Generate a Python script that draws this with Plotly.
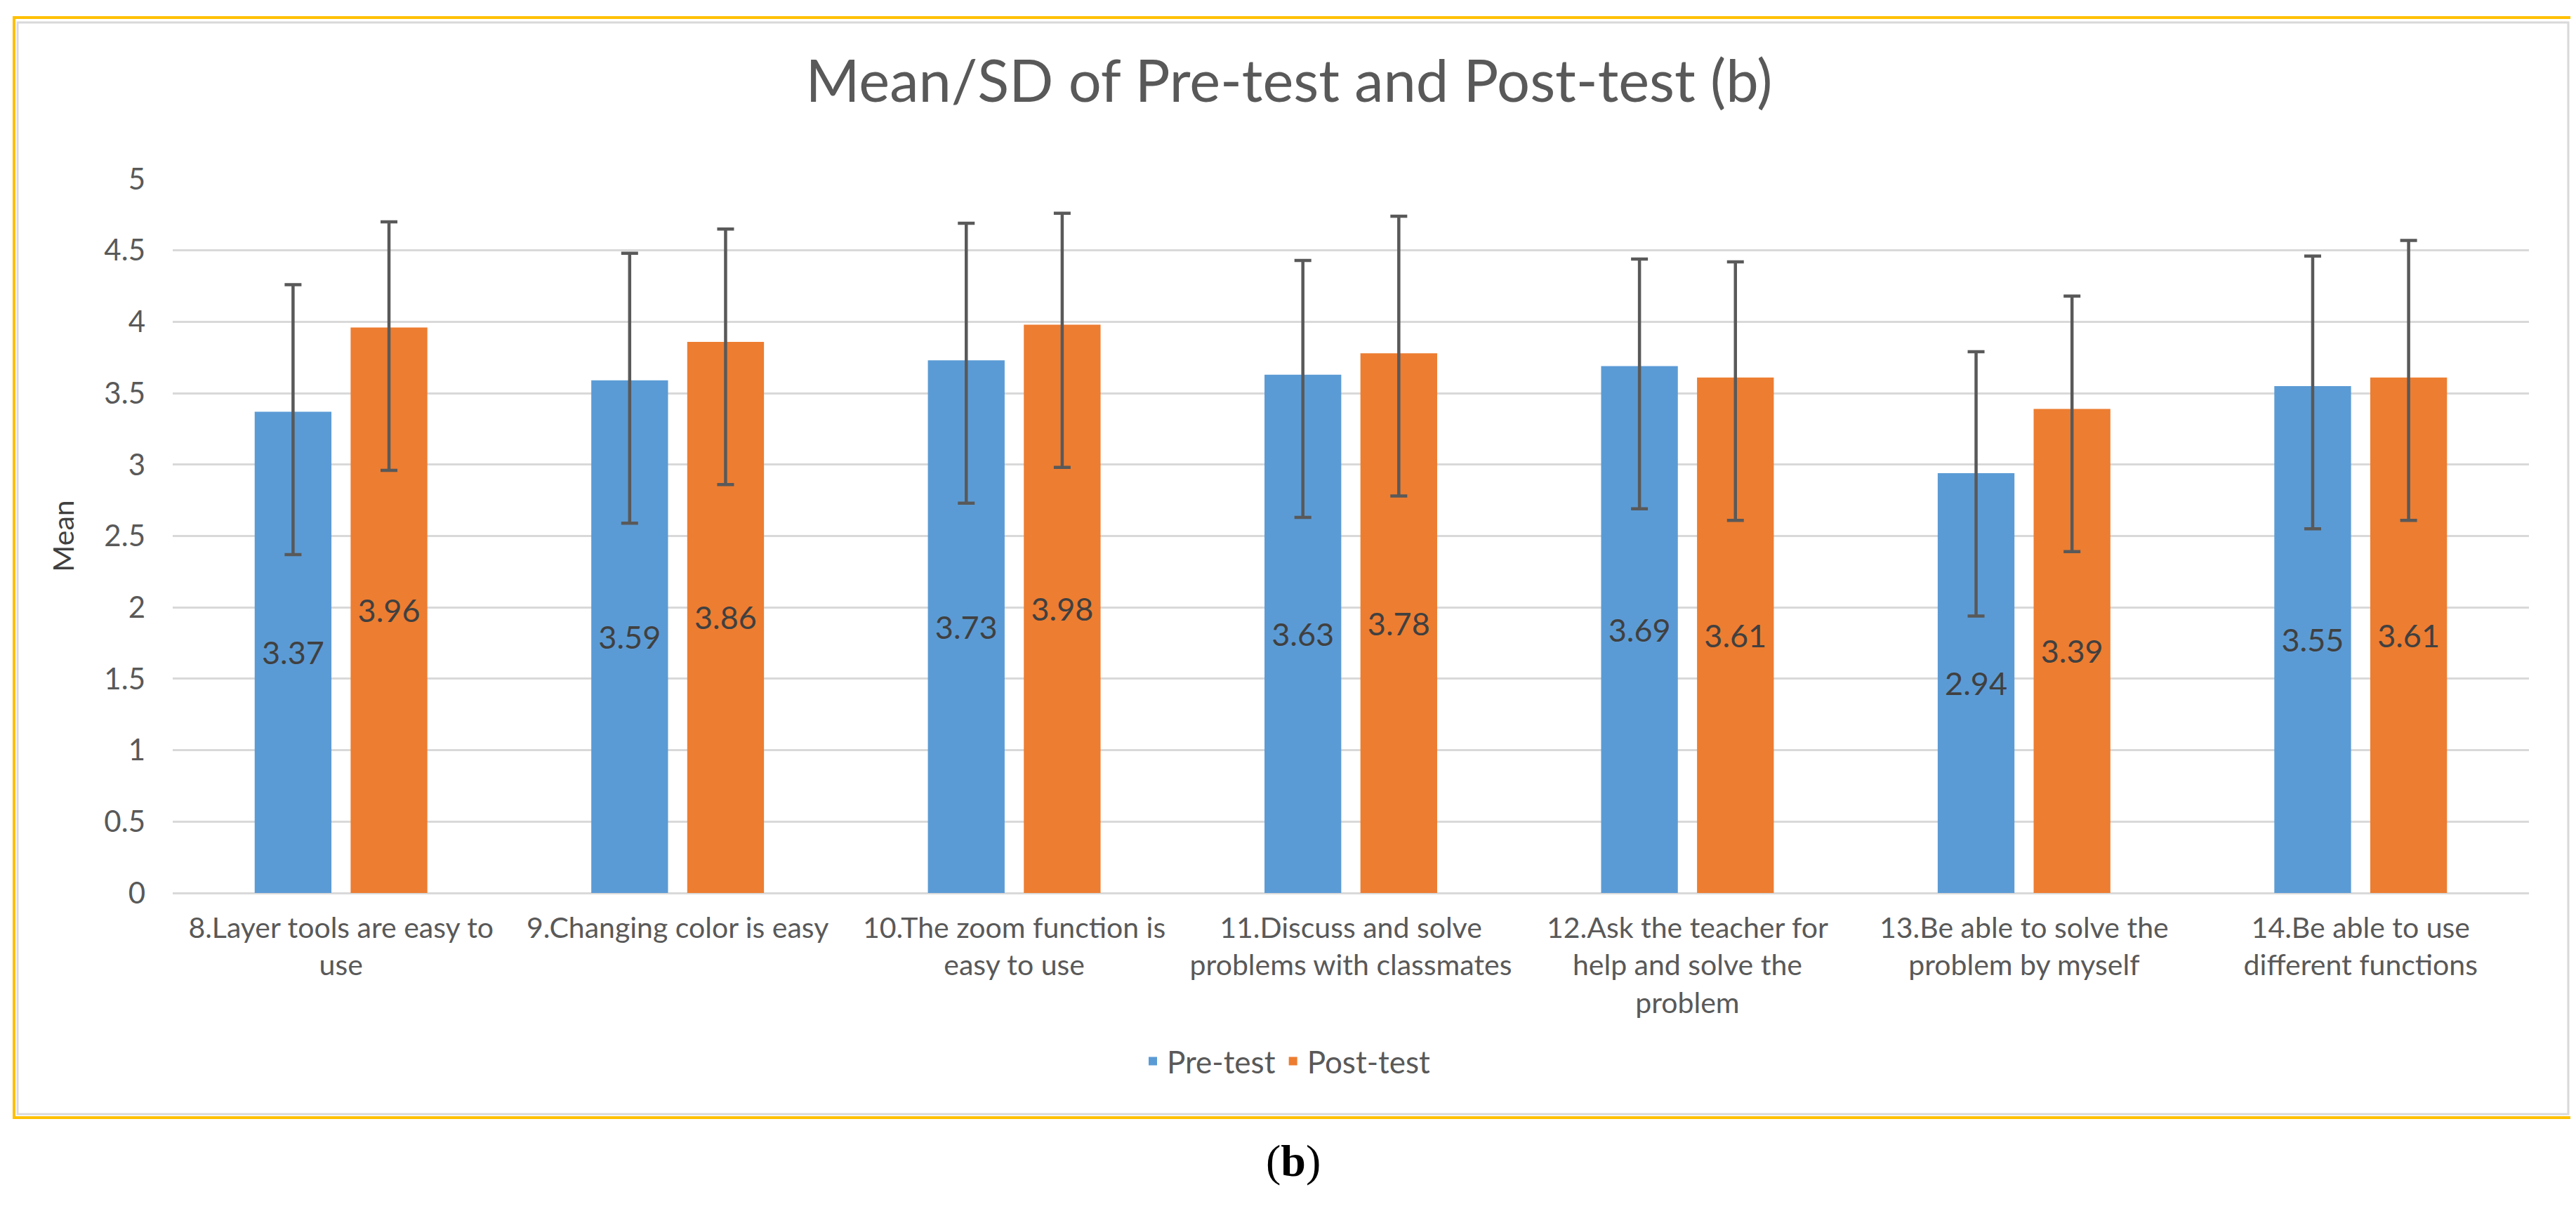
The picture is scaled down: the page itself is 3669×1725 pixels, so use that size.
import plotly.graph_objects as go

W, H = 3669, 1725

categories = [
    "8.Layer tools are easy to<br>use",
    "9.Changing color is easy",
    "10.The zoom function is<br>easy to use",
    "11.Discuss and solve<br>problems with classmates",
    "12.Ask the teacher for<br>help and solve the<br>problem",
    "13.Be able to solve the<br>problem by myself",
    "14.Be able to use<br>different functions",
]
pre_mean = [3.37, 3.59, 3.73, 3.63, 3.69, 2.94, 3.55]
post_mean = [3.96, 3.86, 3.98, 3.78, 3.61, 3.39, 3.61]
pre_err_plus = [0.89, 0.89, 0.96, 0.80, 0.75, 0.85, 0.91]
pre_err_minus = [1.0, 1.0, 1.0, 1.0, 1.0, 1.0, 1.0]
post_err_plus = [0.74, 0.79, 0.78, 0.96, 0.81, 0.79, 0.96]
post_err_minus = [1.0, 1.0, 1.0, 1.0, 1.0, 1.0, 1.0]
y_ticks = [0, 0.5, 1, 1.5, 2, 2.5, 3, 3.5, 4, 4.5, 5]

FONT = "Lato"
GRAY = "#595959"

# plot area in pixels
L, R, T, B = 238, 3594, 247, 1264
pw, ph = R - L, B - T


def px_x(p):
    return (p - L) / pw


def px_y(p):
    return (B - p) / ph


fig = go.Figure()
fig.add_trace(go.Bar(
    name="Pre-test", x=categories, y=pre_mean,
    marker=dict(color="#5B9BD5", line=dict(width=0)),
    text=[f"{v:.2f}" for v in pre_mean],
    textposition="inside", insidetextanchor="middle",
    textfont=dict(family=FONT, size=45, color="#404040"),
    error_y=dict(type="data", symmetric=False, array=pre_err_plus,
                 arrayminus=pre_err_minus, color="#595959", thickness=4.5, width=12),
))
fig.add_trace(go.Bar(
    name="Post-test", x=categories, y=post_mean,
    marker=dict(color="#ED7D31", line=dict(width=0)),
    text=[f"{v:.2f}" for v in post_mean],
    textposition="inside", insidetextanchor="middle",
    textfont=dict(family=FONT, size=45, color="#404040"),
    error_y=dict(type="data", symmetric=False, array=post_err_plus,
                 arrayminus=post_err_minus, color="#595959", thickness=4.5, width=12),
))

shapes = [
    dict(type="rect", xref="paper", yref="paper",
         x0=px_x(17), x1=px_x(3650), y0=px_y(1579), y1=px_y(24),
         line=dict(color="#D9D9D9", width=3), layer="below"),
    dict(type="rect", xref="paper", yref="paper",
         x0=px_x(12), x1=px_x(3655), y0=px_y(1584), y1=px_y(17),
         line=dict(color="#FFC000", width=4), layer="above"),
]

fig.update_layout(
    width=W, height=H, autosize=False,
    margin=dict(l=L, r=W - R, t=T, b=H - B, pad=0),
    paper_bgcolor="white", plot_bgcolor="white",
    font=dict(family=FONT, size=41, color=GRAY),
    barmode="group", bargap=0.43, bargroupgap=0.2,
    title=dict(text="Mean/SD of Pre-test and Post-test (b)",
               font=dict(family=FONT, size=83, color=GRAY),
               x=1828 / W, xanchor="center", xref="container",
               y=1 - 108 / H, yanchor="middle", yref="container"),
    legend=dict(orientation="h", x=px_x(1824), xanchor="center",
                y=px_y(1504), yanchor="middle",
                font=dict(family=FONT, size=44, color=GRAY),
                itemwidth=30, traceorder="normal"),
    xaxis=dict(showgrid=False, showline=False, zeroline=False, ticks="",
               tickfont=dict(family=FONT, size=41, color=GRAY),
               ticklabelstandoff=22),
    yaxis=dict(range=[0, 5], tickvals=y_ticks, ticktext=[f"{v:g}" for v in y_ticks],
               showgrid=True, gridcolor="#D9D9D9", gridwidth=3,
               zeroline=True, zerolinecolor="#D9D9D9", zerolinewidth=3,
               showline=False, ticks="",
               tickfont=dict(family=FONT, size=42, color=GRAY),
               ticklabelstandoff=38,
               title=dict(text="Mean", font=dict(family=FONT, size=41, color="#404040"),
                          standoff=30)),
    shapes=shapes,
    annotations=[dict(text="(<b>b</b>)", xref="paper", yref="paper",
                      x=px_x(1834), y=px_y(1645), xanchor="center", yanchor="middle",
                      showarrow=False,
                      font=dict(family="Liberation Serif", size=64, color="black"))],
)

fig.write_html("out.html")
